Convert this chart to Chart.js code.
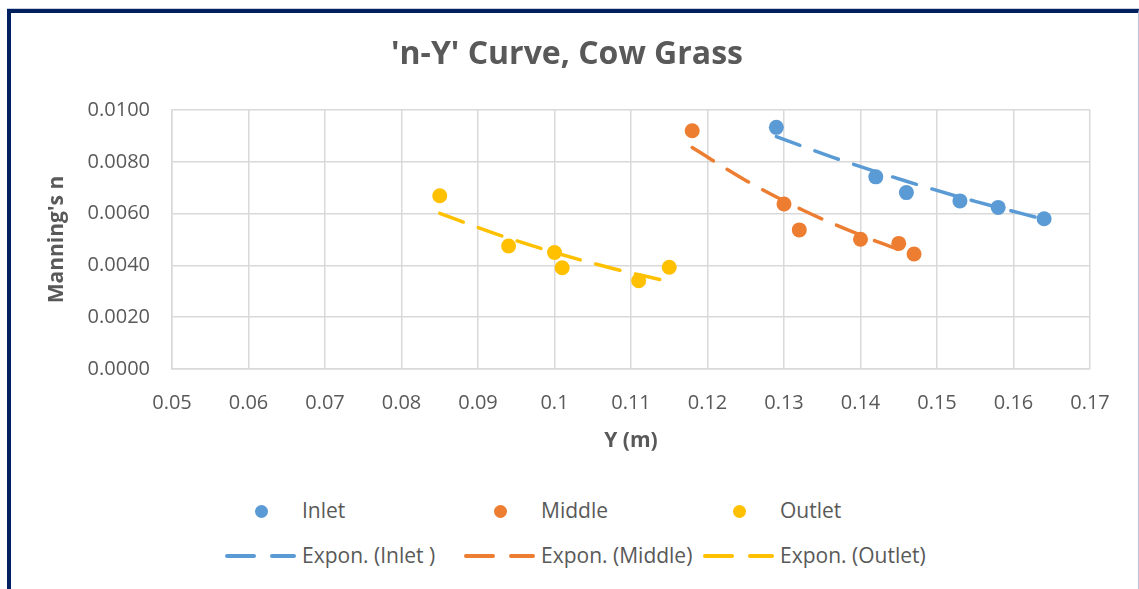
<!DOCTYPE html>
<html lang="en">
<head>
<meta charset="UTF-8">
<title>'n-Y' Curve, Cow Grass</title>
<script src="https://cdn.jsdelivr.net/npm/chart.js@4"></script>
<style>
  body { margin: 0; background: #fff; font-family: "Open Sans", sans-serif; }
  .frame {
    position: absolute; left: 7px; top: 9px; width: 1127px; height: 600px;
    border-top: 4px solid #002060; border-left: 4px solid #002060; border-right: 1px solid #b8c4d6;
    box-shadow: 0 -1px 0 #c8d0e0;
  }
  #wrap { position: absolute; left: 0; top: 0; }
  .leg { position: absolute; color: #595959; font-size: 21px; line-height: 24px; white-space: nowrap; }
  .dot { position: absolute; width: 13px; height: 13px; border-radius: 50%; }
  .dash { position: absolute; height: 4px; border-radius: 2px; }
</style>
</head>
<body>
<div class="frame"></div>
<div id="wrap"><canvas id="myChart" width="1139" height="460"></canvas></div>
<div id="legend"></div>

<script>
  // measured points (Y in m, Manning's n)
  const inletY = [0.129, 0.142, 0.146, 0.153, 0.158, 0.164];
  const inletN = [0.00933, 0.00742, 0.00681, 0.00649, 0.00624, 0.00580];
  const middleY = [0.118, 0.130, 0.132, 0.140, 0.145, 0.147];
  const middleN = [0.00920, 0.00637, 0.00537, 0.00501, 0.00485, 0.00444];
  const outletY = [0.085, 0.094, 0.100, 0.101, 0.111, 0.115];
  const outletN = [0.00669, 0.00475, 0.00450, 0.00391, 0.00341, 0.00393];

  // exponential trendlines
  const inletFitY = [0.129, 0.1375, 0.146, 0.155, 0.164];
  const inletFitN = [0.00897, 0.00806, 0.00725, 0.00647, 0.00578];
  const middleFitY = [0.118, 0.125, 0.1325, 0.140, 0.147];
  const middleFitN = [0.00855, 0.00728, 0.00613, 0.00517, 0.00440];
  const outletFitY = [0.085, 0.0925, 0.100, 0.1075, 0.115];
  const outletFitN = [0.00601, 0.00520, 0.00450, 0.00389, 0.00337];

  const seriesNames = ['Inlet', 'Middle', 'Outlet'];
  const trendNames = ['Expon. (Inlet )', 'Expon. (Middle)', 'Expon. (Outlet)'];
  const colors = ['#5B9BD5', '#ED7D31', '#FFC000'];

  const xTicks = [0.05, 0.06, 0.07, 0.08, 0.09, 0.1, 0.11, 0.12, 0.13, 0.14, 0.15, 0.16, 0.17];
  const yTicks = [0, 0.002, 0.004, 0.006, 0.008, 0.01];

  const grey = '#595959';
  const font = 'Open Sans';

  function pts(xs, ys) {
    return xs.map((x, i) => ({ x: x, y: ys[i] }));
  }

  const pointSets = [[inletY, inletN], [middleY, middleN], [outletY, outletN]];
  const fitSets = [[inletFitY, inletFitN], [middleFitY, middleFitN], [outletFitY, outletFitN]];

  let datasets = [];
  for (let i = 0; i < 3; i++) {
    datasets.push({
      label: seriesNames[i],
      data: pts(pointSets[i][0], pointSets[i][1]),
      showLine: false,
      pointRadius: 7.5,
      pointBackgroundColor: colors[i],
      pointBorderWidth: 0,
      order: 1
    });
  }
  for (let i = 0; i < 3; i++) {
    datasets.push({
      label: trendNames[i],
      data: pts(fitSets[i][0], fitSets[i][1]),
      showLine: true,
      borderColor: colors[i],
      borderWidth: 3.5,
      borderDash: [25, 16],
      borderCapStyle: 'round',
      cubicInterpolationMode: 'monotone',
      pointRadius: 0,
      order: 0
    });
  }

  const config = {
    type: 'scatter',
    data: { datasets: datasets },
    options: {
      responsive: false,
      animation: false,
      layout: { padding: { left: 44, right: 49, top: 0, bottom: 0 } },
      plugins: {
        legend: { display: false },
        tooltip: { enabled: false },
        title: {
          display: true,
          text: "'n-Y' Curve, Cow Grass",
          color: grey,
          font: { family: font, size: 32, weight: 'bold' },
          padding: { top: 36, bottom: 35.6 }
        }
      },
      scales: {
        x: {
          type: 'linear',
          min: 0.05,
          max: 0.17,
          afterBuildTicks: function (scale) {
            scale.ticks = xTicks.map(v => ({ value: v }));
          },
          afterFit: function (scale) { scale.height = 91; },
          ticks: {
            color: grey,
            font: { family: font, size: 20 },
            padding: 22,
            maxRotation: 0,
            callback: function (v) { return String(parseFloat(v.toFixed(2))); }
          },
          grid: { color: '#D9D9D9', lineWidth: 1.5, drawTicks: false },
          border: { color: '#D9D9D9', width: 1.5 },
          title: {
            display: true,
            text: 'Y (m)',
            color: grey,
            font: { family: font, size: 21, weight: 'bold' },
            padding: { top: 0, bottom: 6 }
          }
        },
        y: {
          min: 0,
          max: 0.01,
          afterBuildTicks: function (scale) {
            scale.ticks = yTicks.map(v => ({ value: v }));
          },
          afterFit: function (scale) { scale.width = 128; },
          ticks: {
            color: grey,
            font: { family: font, size: 20 },
            padding: 22,
            callback: function (v) { return v.toFixed(4); }
          },
          grid: { color: '#D9D9D9', lineWidth: 1.5, drawTicks: false },
          border: { color: '#D9D9D9', width: 1.5 },
          title: {
            display: true,
            text: "Manning's n",
            color: grey,
            font: { family: font, size: 21, weight: 'bold' },
            padding: { top: 0, bottom: 0 }
          }
        }
      }
    }
  };

  let myChart = new Chart(document.getElementById('myChart'), config);

  // legend in two rows, three columns
  const legend = document.getElementById('legend');
  for (let i = 0; i < 3; i++) {
    const textX = 302 + i * 239;

    const dot = document.createElement('div');
    dot.className = 'dot';
    dot.style.background = colors[i];
    dot.style.left = (textX - 41 - 6.5) + 'px';
    dot.style.top = (511 - 6.5) + 'px';
    legend.appendChild(dot);

    const t1 = document.createElement('div');
    t1.className = 'leg';
    t1.textContent = seriesNames[i];
    t1.style.left = textX + 'px';
    t1.style.top = (511 - 13) + 'px';
    legend.appendChild(t1);

    const d1 = document.createElement('div');
    d1.className = 'dash';
    d1.style.background = colors[i];
    d1.style.left = (textX - 77) + 'px';
    d1.style.width = '31px';
    d1.style.top = (556 - 2) + 'px';
    legend.appendChild(d1);

    const d2 = document.createElement('div');
    d2.className = 'dash';
    d2.style.background = colors[i];
    d2.style.left = (textX - 32) + 'px';
    d2.style.width = '26px';
    d2.style.top = (556 - 2) + 'px';
    legend.appendChild(d2);

    const t2 = document.createElement('div');
    t2.className = 'leg';
    t2.textContent = trendNames[i];
    t2.style.left = textX + 'px';
    t2.style.top = (556 - 13) + 'px';
    legend.appendChild(t2);
  }
</script>
</body>
</html>
